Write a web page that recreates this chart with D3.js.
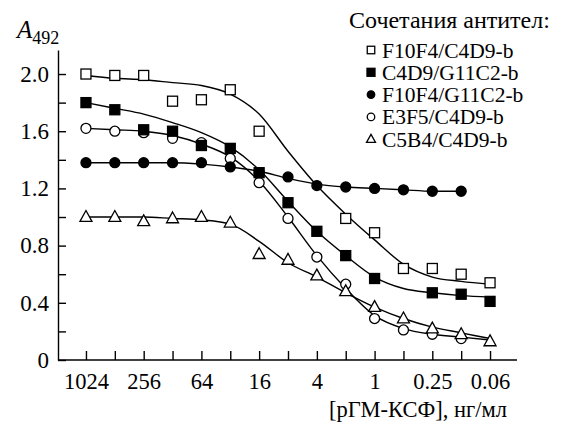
<!DOCTYPE html>
<html><head><meta charset="utf-8">
<script src="https://cdn.jsdelivr.net/npm/d3@7"></script>
</head>
<body style="margin:0"><svg id="c" width="565" height="426" style="background:#fff"></svg>
<script>
// concentrations, ng/ml (two-fold dilutions)
const conc = [1024,512,256,128,64,32,16,8,4,2,1,0.5,0.25,0.125,0.0625];
const xTickLabels = {1024:"1024",256:"256",64:"64",16:"16",4:"4",1:"1",0.25:"0.25",0.0625:"0.06"};
const yTicks = [0,0.2,0.4,0.6,0.8,1.0,1.2,1.4,1.6,1.8,2.0];
const yLabels = {0:"0",0.4:"0.4",0.8:"0.8",1.2:"1.2",1.6:"1.6",2:"2.0"};

const names = ["F10F4/C4D9-b","C4D9/G11C2-b","F10F4/G11C2-b","E3F5/C4D9-b","C5B4/C4D9-b"];
const symbols = ["squareOpen","squareFilled","circleFilled","circleOpen","triangleOpen"];

// measured points
const pF10F4_C4D9 = [2.00,1.99,1.99,1.81,1.82,1.89,1.60,null,null,0.99,0.89,0.64,0.64,0.60,0.54];
const pC4D9_G11C2 = [1.80,1.75,1.61,1.60,1.50,1.48,1.31,1.10,0.90,0.73,0.57,null,0.47,0.46,0.41];
const pF10F4_G11C2 = [1.38,1.38,1.38,1.38,1.38,1.35,1.31,1.28,1.22,1.21,1.20,1.19,1.18,1.18,null];
const pE3F5_C4D9 = [1.62,1.60,1.59,1.55,1.52,1.41,1.24,0.99,0.72,0.53,0.29,0.21,0.18,0.15,null];
const pC5B4_C4D9 = [1.00,1.00,0.97,0.99,1.00,0.96,0.74,0.70,0.59,0.48,0.37,0.29,0.22,0.18,0.13];

// fitted curves, read at each concentration
const fF10F4_C4D9 = [1.99,1.97,1.96,1.94,1.92,1.86,1.72,1.46,1.22,1.02,0.84,0.67,0.58,0.55,0.53];
const fC4D9_G11C2 = [1.80,1.76,1.72,1.66,1.59,1.49,1.33,1.11,0.90,0.73,0.58,0.50,0.47,0.45,0.44];
const fF10F4_G11C2 = [1.38,1.38,1.38,1.38,1.37,1.35,1.32,1.27,1.23,1.21,1.20,1.19,1.18,1.18,null];
const fE3F5_C4D9 = [1.62,1.61,1.60,1.57,1.51,1.42,1.25,1.00,0.73,0.50,0.31,0.22,0.18,0.16,0.14];
const fC5B4_C4D9 = [1.00,1.00,1.00,0.99,0.98,0.95,0.83,0.68,0.58,0.47,0.37,0.29,0.23,0.19,0.15];

const points = [pF10F4_C4D9,pC4D9_G11C2,pF10F4_G11C2,pE3F5_C4D9,pC5B4_C4D9];
const fits = [fF10F4_C4D9,fC4D9_G11C2,fF10F4_G11C2,fE3F5_C4D9,fC5B4_C4D9];

const FONT = "'Liberation Serif'";
const svg = d3.select("#c");
const x = d3.scaleLog().base(2).domain([2048,0.03125]).range([57.1,518.9]);
const y = d3.scaleLinear().domain([0,2.168]).range([360,50]);

function txt(sel, size) {
  return sel.style("font-family", FONT).style("font-size", size+"px").attr("fill","#000");
}

// axes
const yAxis = d3.axisLeft(y).tickValues(yTicks).tickSize(-8).tickSizeOuter(0).tickPadding(9)
  .tickFormat(d => { const k = Math.round(d*10)/10; return yLabels[k] !== undefined ? yLabels[k] : ""; });
const gy = svg.append("g").attr("transform","translate(58,0)").call(yAxis);
gy.attr("font-family", null).attr("font-size", null);
txt(gy.selectAll("text"), 23);
gy.selectAll("line,path").attr("stroke","#000").attr("stroke-width",1.4);

const xAxis = d3.axisBottom(x).tickValues(conc).tickSize(-9).tickSizeOuter(0).tickPadding(14)
  .tickFormat(d => xTickLabels[d] || "");
const gx = svg.append("g").attr("transform","translate(0,360)").call(xAxis);
gx.attr("font-family", null).attr("font-size", null);
gx.select(".domain").attr("d","M58,0H517");
txt(gx.selectAll("text"), 22.5).attr("y", 29).attr("dy", null);
gx.selectAll("line,path").attr("stroke","#000").attr("stroke-width",1.4);

// axis titles
const yt = txt(svg.append("text").attr("x",17).attr("y",38), 25);
yt.append("tspan").text("A").style("font-style","italic");
yt.append("tspan").text("492").attr("dy",6).style("font-size","18px");
txt(svg.append("text").attr("x",418).attr("y",417).attr("text-anchor","middle"), 22.5)
  .text("[рГМ-КСФ], нг/мл");

// fitted curves
const line = d3.line().defined(d => d.v !== null).x(d => x(d.c)).y(d => y(d.v)).curve(d3.curveMonotoneX);
fits.forEach(f => {
  svg.append("path").datum(conc.map((c,i)=>({c, v:f[i]})))
    .attr("d", line).attr("fill","none").attr("stroke","#000").attr("stroke-width",1.4);
});

// markers
function drawMarker(g, type, cx, cy, s) {
  if (type === "squareOpen" || type === "squareFilled") {
    g.append("rect").attr("x",cx-s/2).attr("y",cy-s/2).attr("width",s).attr("height",s)
      .attr("fill", type==="squareFilled" ? "#000" : "#fff").attr("stroke","#000").attr("stroke-width",1.3);
  } else if (type === "circleOpen" || type === "circleFilled") {
    g.append("circle").attr("cx",cx).attr("cy",cy).attr("r",s/2)
      .attr("fill", type==="circleFilled" ? "#000" : "#fff").attr("stroke","#000").attr("stroke-width",1.3);
  } else {
    const h = s*0.9;
    g.append("path").attr("d",`M${cx},${cy-h*0.6}L${cx+s/2},${cy+h*0.4}L${cx-s/2},${cy+h*0.4}Z`)
      .attr("fill","#fff").attr("stroke","#000").attr("stroke-width",1.3);
  }
}
const order = [3,0,4,1,2];
order.forEach(si => {
  const g = svg.append("g");
  points[si].forEach((v,i) => {
    if (v === null) return;
    drawMarker(g, symbols[si], x(conc[i]), y(v), symbols[si].startsWith("triangle") ? 12 : 10);
  });
});

// legend
txt(svg.append("text").attr("x",349).attr("y",28), 24).text("Сочетания антител:");
names.forEach((n,i) => {
  const cy = 50 + i*22.3;
  const lg = svg.append("g");
  const sz = symbols[i].startsWith("triangle") ? 9 : (symbols[i]==="squareFilled" ? 8 : 7.5);
  drawMarker(lg, symbols[i], 371, cy, sz);
  txt(svg.append("text").attr("x",382).attr("y",cy+7.5), 21.5).text(n);
});
</script></body></html>
